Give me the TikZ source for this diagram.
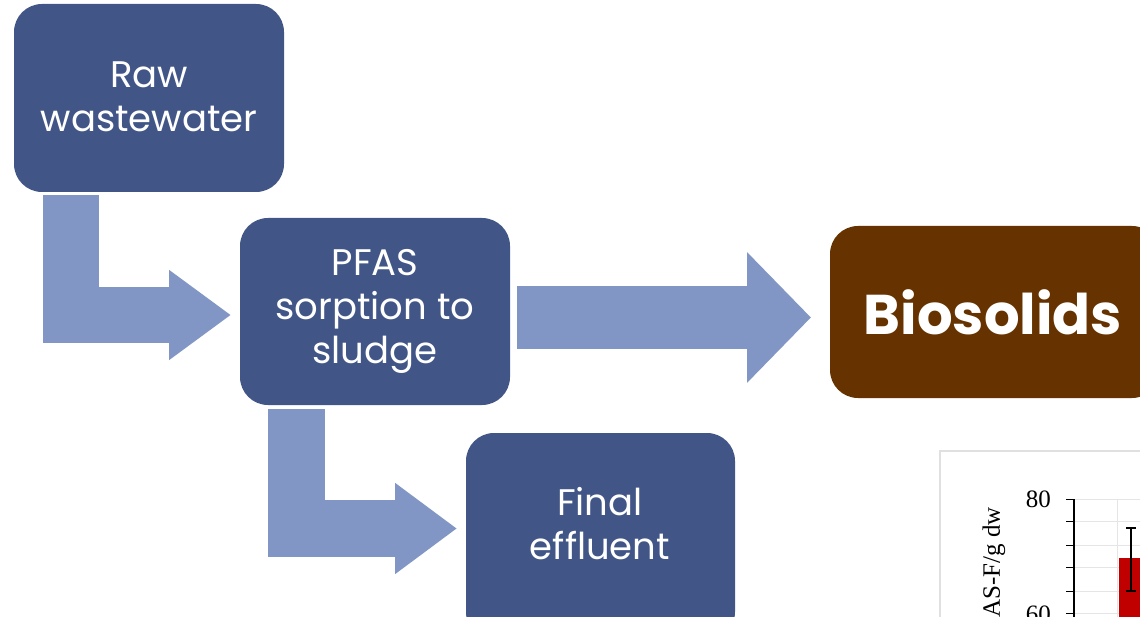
\documentclass[tikz,border=0pt]{standalone}
\usepackage{fontspec}
\setmainfont{Poppins}
\newfontfamily\chartfont{Liberation Serif}
\usetikzlibrary{arrows.meta}
\definecolor{boxblue}{HTML}{415587}
\definecolor{arrowblue}{HTML}{8196C4}
\definecolor{biobrown}{HTML}{663300}
\definecolor{chartred}{HTML}{C00000}
\tikzset{
  boxtext/.style={text=white, align=center, font=\fontsize{37}{44}\selectfont},
  chartlabel/.style={font=\chartfont\fontsize{25}{25}\selectfont},
}
\begin{document}
\begin{tikzpicture}[x=1pt,y=-1pt]
\useasboundingbox (0,0) rectangle (1140,617);
% boxes
\fill[boxblue, rounded corners=28pt] (14,4) rectangle (284,192);
\node[boxtext] (raw) at (149,97) {Raw\\wastewater};
\fill[boxblue, rounded corners=28pt] (240,218) rectangle (510,405);
\node[boxtext] (pfas) at (375,311) {PFAS\\sorption to\\sludge};
\begin{scope}
\clip (0,0) rectangle (1140,617);
\fill[boxblue, rounded corners=28pt] (466,433) rectangle (735,640);
\fill[biobrown, rounded corners=28pt] (830,226) rectangle (1160,398);
\end{scope}
\node[boxtext] (final) at (600,524) {Final\\effluent};
\node[text=white, font=\fontsize{56}{60}\selectfont\bfseries] (bio) at (993,312) {Biosolids};
% arrows
\coordinate (a1s) at (71,195);
\coordinate (a1c) at (71,315);
\coordinate (a1e) at (231,315);
\draw[arrowblue, line width=56pt, line join=miter, line cap=butt,
  -{Triangle[length=62pt,width=86pt]}] (a1s) -- (a1c) -- (a1e);
\coordinate (a2s) at (296.5,409);
\coordinate (a2c) at (296.5,528.5);
\coordinate (a2e) at (457,528.5);
\draw[arrowblue, line width=57pt, line join=miter, line cap=butt,
  -{Triangle[length=62pt,width=87pt]}] (a2s) -- (a2c) -- (a2e);
\coordinate (a3s) at (517,317.5);
\coordinate (a3e) at (811,317.5);
\draw[arrowblue, line width=63pt, line cap=butt,
  -{Triangle[length=64pt,width=127pt]}] (a3s) -- (a3e);
% chart fragment
\begin{scope}
\clip (0,0) rectangle (1140,617);
\draw[black!12, line width=1.5pt] (940,451) rectangle (1160,640);
\foreach \yy in {499,521,545,567,591,613} {
  \draw[black!10, line width=1pt] (1074,\yy) -- (1140,\yy);
  \draw[black, line width=1pt] (1066,\yy) -- (1074,\yy);
}
\draw[black!10, line width=1pt] (1117,499) -- (1117,617);
\fill[chartred] (1119,558) rectangle (1145,617);
\draw[black, line width=1.3pt] (1074,499) -- (1074,617);
\draw[black, line width=1.2pt] (1131,528) -- (1131,591);
\draw[black, line width=1.2pt] (1126,528) -- (1136,528);
\draw[black, line width=1.2pt] (1126,591) -- (1136,591);
\node[chartlabel, anchor=east, inner sep=0pt] (t80) at (1051,499) {80};
\node[chartlabel, anchor=east, inner sep=0pt] (t60) at (1051,614) {60};
\node[chartlabel, rotate=90, anchor=east, inner sep=0pt] (ylab) at (994,507) {AS-F/g dw};
\end{scope}
\end{tikzpicture}
\end{document}
